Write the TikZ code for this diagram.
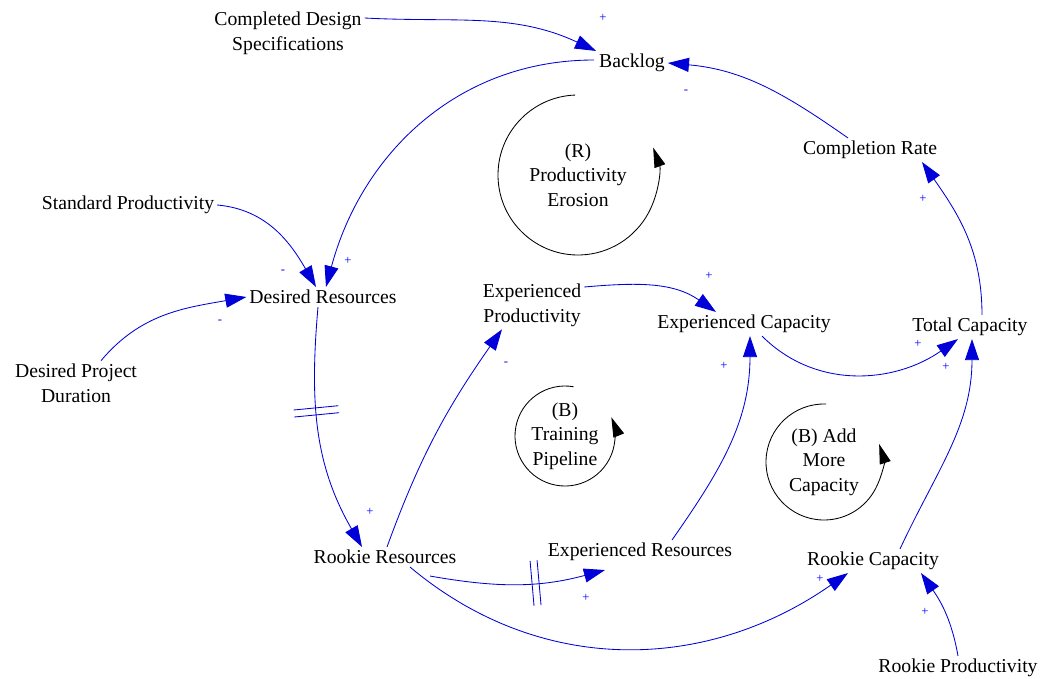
\documentclass[tikz,border=0pt]{standalone}
\usepackage{fontspec}
\setmainfont{Liberation Serif}
\usetikzlibrary{
		arrows.meta,
		decorations.markings
	}
\tikzset{
		>={Triangle[length=15pt,width=10pt]}
	}

\begin{document}
\begin{tikzpicture}[x=0.025cm, y=0.025cm,
					var/.style={font=\fontsize{14}{17.5}\selectfont, align=center, inner sep=2pt},
					link/.style={->, draw=blue!85!black, line width=0.6pt},
					sign/.style={text=blue, font=\small, inner sep=0pt},
					loopname/.style={font=\fontsize{14}{17.5}\selectfont, align=center},
					looparrow/.style={-{Triangle[length=14pt,width=8pt]}, draw=black, line width=0.6pt},
					delaymark/.style={postaction={decorate, decoration={markings, mark=at position #1 with {\draw[-, blue!85!black, line width=0.6pt] (-2.5pt,-16pt) -- (-2.5pt,16pt) (2.5pt,-16pt) -- (2.5pt,16pt);}}}}]
		\useasboundingbox (0,0) rectangle (1042,-679);
		% variables
		\node[var] (cds) at (288,-33) {Completed Design\\Specifications};
		\node[var] (backlog) at (632,-63) {Backlog};
		\node[var] (cr) at (870,-150) {Completion Rate};
		\node[var] (sp) at (128,-205) {Standard Productivity};
		\node[var] (dr) at (323,-297) {Desired Resources};
		\node[var] (dpd) at (76,-383) {Desired Project\\Duration};
		\node[var] (ep) at (532,-305) {Experienced\\Productivity};
		\node[var] (ec) at (744,-324) {Experienced Capacity};
		\node[var] (tc) at (970,-327) {Total Capacity};
		\node[var] (rr) at (385,-557) {Rookie Resources};
		\node[var] (er) at (640,-552) {Experienced Resources};
		\node[var] (rc) at (873,-561) {Rookie Capacity};
		\node[var] (rp) at (958,-668) {Rookie Productivity};
		% loops
		\node[loopname] (rloop) at (578,-175) {(R)\\Productivity\\Erosion};
		\draw[looparrow] ([shift={(92:80)}]rloop.center) arc[start angle=92, end angle=380, radius=80];
		\node[loopname] (tloop) at (565,-436) {(B)\\Training\\Pipeline};
		\draw[looparrow] ([shift={(80:50)}]tloop.center) arc[start angle=80, end angle=382, radius=50];
		\node[loopname] (aloop) at (824,-462) {(B) Add\\More\\Capacity};
		\draw[looparrow] ([shift={(88:58)}]aloop.center) arc[start angle=88, end angle=378, radius=58];
		% links
		\draw[link] ([shift={(0,15)}]cds.east) to[out=-3, in=155] (backlog.north west);
		\draw[link] ([shift={(-2,3)}]backlog.west) to[out=180, in=75] ([shift={(3,0)}]dr.north);
		\draw[link] ([shift={(-22,0)}]cr.north) to[out=145, in=-5] (backlog.east);
		\draw[link] (sp.east) to[out=-5, in=120] ([shift={(-7,0)}]dr.north);
		\draw[link] ([shift={(25,0)}]dpd.north) to[out=50, in=190] (dr.west);
		\draw[link, delaymark=0.42] ([shift={(-5,0)}]dr.south) to[out=-95, in=120] ([shift={(-23,0)}]rr.north);
		\draw[link] ([shift={(2,0)}]rr.north) to[out=70, in=-125] ([shift={(-30,0)}]ep.south);
		\draw[link] ([shift={(0,18)}]ep.east) to[out=5, in=145] ([shift={(-28,0)}]ec.north);
		\draw[link, delaymark=0.6] ([shift={(45,-9)}]rr.south) to[out=-10, in=-165] ([shift={(-35,-6)}]er.south);
		\draw[link] ([shift={(32,0)}]er.north) to[out=55, in=-90] ([shift={(6,0)}]ec.south);
		\draw[link] ([shift={(18,0)}]ec.south) to[out=-45, in=-145] ([shift={(-12,0)}]tc.south);
		\draw[link] ([shift={(25,0)}]rr.south) to[out=-40, in=-145] ([shift={(-25,0)}]rc.south);
		\draw[link] (rp.north) to[out=100, in=-55] ([shift={(48,0)}]rc.south);
		\draw[link] ([shift={(27,0)}]rc.north) to[out=65, in=-90] ([shift={(2,0)}]tc.south);
		\draw[link] ([shift={(12,0)}]tc.north) to[out=90, in=-55] ([shift={(52,0)}]cr.south);
		% polarities
		\node[sign] (s1) at (603,-18) {+};
		\node[sign] (s2) at (686,-92) {-};
		\node[sign] (s3) at (283,-272) {-};
		\node[sign] (s4) at (348,-261) {+};
		\node[sign] (s5) at (220,-322) {-};
		\node[sign] (s6) at (370,-512) {+};
		\node[sign] (s7) at (506,-364) {-};
		\node[sign] (s8) at (709,-276) {+};
		\node[sign] (s9) at (724,-366) {+};
		\node[sign] (s10) at (918,-344) {+};
		\node[sign] (s11) at (946,-367) {+};
		\node[sign] (s12) at (923,-199) {+};
		\node[sign] (s13) at (586,-598) {+};
		\node[sign] (s14) at (820,-579) {+};
		\node[sign] (s15) at (925,-612) {+};
	\end{tikzpicture}
\end{document}
